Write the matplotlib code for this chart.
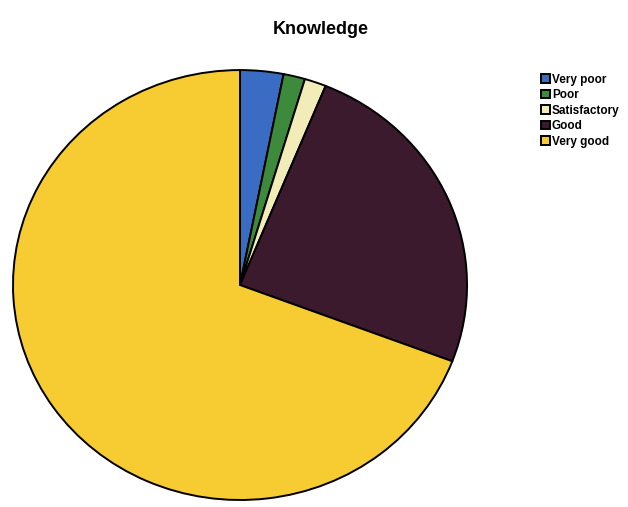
import matplotlib.pyplot as plt

categories = ["Very poor", "Poor", "Satisfactory", "Good", "Very good"]
counts = [2, 1, 1, 16, 45]
colors = ["#3b6cc4", "#3e8a3c", "#f2ecb8", "#3a1a2c", "#f6cc32"]

fig = plt.figure(figsize=(6.28, 5.07), dpi=100)
fig.patch.set_facecolor("white")

ax = fig.add_axes([0.0207, 0.0138, 0.723, 0.848])
wedges, _ = ax.pie(
    counts,
    colors=colors,
    startangle=90,
    counterclock=False,
    radius=1.0,
    wedgeprops=dict(edgecolor="black", linewidth=1.4),
)
ax.set_aspect("auto")
ax.set_xlim(-1.0, 1.0)
ax.set_ylim(-1.0, 1.0)

fig.text(0.51, 0.941, "Knowledge", ha="center", va="center",
         fontsize=13, fontweight="bold", family="Liberation Sans")

fig.legend(
    wedges, categories,
    loc="upper left", bbox_to_anchor=(0.862, 0.855),
    frameon=False, handlelength=0.75, handleheight=0.75, handletextpad=0.15,
    labelspacing=0.3, borderpad=0.0, borderaxespad=0.0,
    prop=dict(family="Liberation Sans", size=8.5, weight="bold"),
)

fig.savefig("out.png", dpi=100)
